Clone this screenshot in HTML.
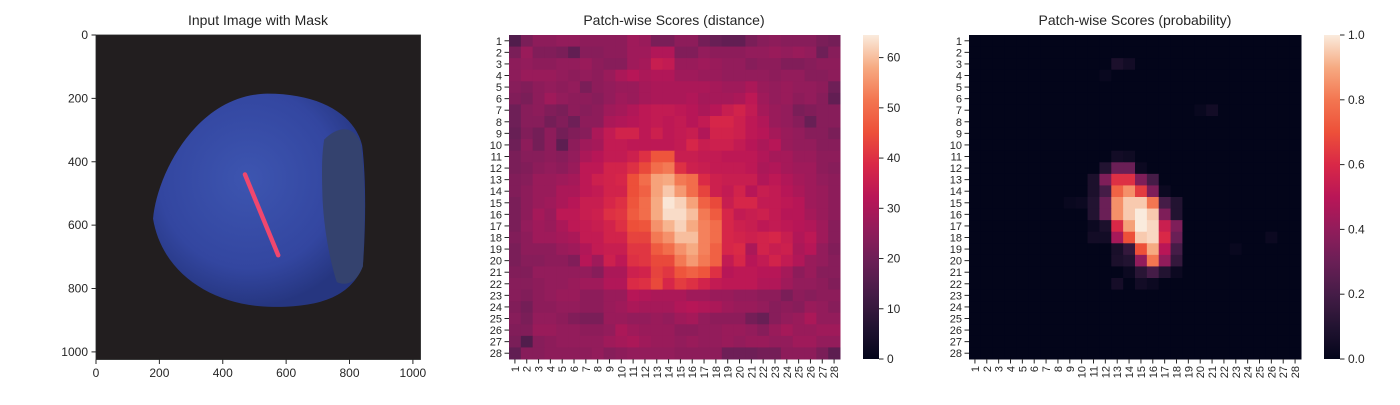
<!DOCTYPE html>
<html><head><meta charset="utf-8"><style>
body{margin:0;background:#fff;}
svg text{font-family:"Liberation Sans",Arial,sans-serif;fill:#262626;}
</style></head><body>
<svg id="fig" width="1400" height="400" xmlns="http://www.w3.org/2000/svg">
<defs>
<radialGradient id="nutGrad" cx="0.45" cy="0.4" r="0.6">
<stop offset="0" stop-color="#3d55b0"/><stop offset="0.7" stop-color="#3346a0"/><stop offset="1" stop-color="#263680"/>
</radialGradient>
</defs>
<text x="258" y="25" font-size="14" text-anchor="middle">Input Image with Mask</text>
<text x="674" y="25" font-size="14" text-anchor="middle">Patch-wise Scores (distance)</text>
<text x="1135" y="25" font-size="14" text-anchor="middle">Patch-wise Scores (probability)</text>
<g id="imgax"></g>
<g id="hm1"></g>
<g id="hm2"></g>
</svg>
<script>
const NS="http://www.w3.org/2000/svg";
function mk(tag,attrs,parent){const e=document.createElementNS(NS,tag);for(const k in attrs)e.setAttribute(k,attrs[k]);parent.appendChild(e);return e;}

const imgTicks=[0,200,400,600,800,1000];
const distTicks=[0,10,20,30,40,50,60];
const probTicks=[0,0.2,0.4,0.6,0.8,1.0];
const probTickLabels=["0.0","0.2","0.4","0.6","0.8","1.0"];
const distMax=64.5;
const distRows=[
[15,22,25,25,26,26,25,25,25,25,28,27,22,22,25,25,21,19,18,18,22,24,25,24,24,24,22,21],
[22,27,23,23,22,18,24,24,25,25,28,28,31,31,23,23,26,25,25,25,26,26,27,26,27,26,20,24],
[25,26,25,25,26,26,27,25,24,24,28,29,35,34,27,27,28,27,26,26,24,25,25,23,23,24,25,25],
[25,27,27,27,26,25,26,25,27,30,32,30,31,31,28,28,27,27,26,26,26,26,25,26,26,24,24,25],
[24,23,25,26,25,26,22,25,26,27,27,29,30,30,30,30,30,29,28,28,30,27,26,27,26,26,25,20],
[23,22,25,28,26,25,25,24,26,28,27,29,30,30,30,31,29,29,29,30,33,28,26,27,25,26,24,18],
[20,24,25,23,22,25,24,25,28,29,31,33,34,34,33,32,30,32,35,37,34,29,27,26,22,23,24,24],
[20,24,24,21,23,20,25,25,30,31,32,33,34,33,34,32,34,38,38,36,33,31,27,26,24,19,24,24],
[19,23,21,25,21,23,24,30,34,37,37,33,36,33,34,35,31,37,37,36,33,32,29,27,26,24,24,22],
[20,25,21,25,17,25,28,29,34,34,33,33,33,33,34,38,35,36,36,34,32,30,32,27,26,26,24,24],
[22,24,24,25,24,26,30,32,34,34,36,40,46,46,35,35,34,34,33,33,33,31,29,29,27,27,25,25],
[22,23,25,26,25,27,33,33,37,37,40,44,50,52,40,36,35,34,34,34,33,30,31,29,28,28,25,24],
[23,24,27,27,28,29,33,36,37,38,45,50,57,58,52,50,39,36,35,35,35,31,33,31,29,28,26,25],
[23,25,27,27,30,30,33,34,37,37,45,48,57,61,56,50,43,36,34,37,32,35,34,32,30,28,27,25],
[22,25,27,28,30,32,35,35,38,40,46,50,58,64,62,57,48,44,35,38,38,34,34,33,32,28,27,25],
[22,25,29,27,33,33,35,36,40,41,47,50,58,63,63,60,52,47,38,34,35,36,34,32,32,29,27,25],
[22,26,28,27,30,33,34,35,37,40,45,46,55,59,62,58,53,50,38,36,35,33,34,33,32,31,28,24],
[23,25,28,28,29,30,34,34,37,37,43,43,52,55,60,60,53,50,38,37,36,37,38,35,31,33,28,24],
[22,25,25,25,27,28,31,34,35,35,41,41,47,50,55,58,53,48,38,39,30,37,35,36,30,32,26,23],
[22,24,24,25,25,23,32,28,36,33,40,41,44,44,52,56,52,48,34,38,32,34,37,34,31,27,26,24],
[23,23,26,26,26,26,26,24,30,30,36,37,43,41,46,48,46,40,32,33,33,32,32,29,25,27,24,24],
[24,24,25,26,26,27,28,28,31,31,39,40,44,38,42,40,37,34,33,33,33,31,31,28,26,26,25,23],
[24,23,25,26,27,27,25,25,27,27,32,31,30,30,30,28,28,27,27,26,26,25,25,22,25,24,25,25],
[23,21,25,25,26,26,25,25,27,28,30,29,29,29,31,32,31,30,28,27,27,26,24,25,24,27,26,24],
[24,22,26,26,25,23,22,22,27,27,26,26,27,26,28,29,26,25,25,25,21,19,24,26,27,30,26,26],
[23,23,27,27,26,26,25,25,26,30,28,27,27,27,25,25,26,26,27,27,26,24,27,29,27,27,28,28],
[22,15,24,25,26,26,26,26,28,29,30,28,27,27,26,27,26,26,27,26,27,27,26,26,28,28,26,26],
[18,24,24,25,25,25,25,26,24,25,26,26,26,26,25,25,25,25,20,20,20,21,21,25,25,25,22,17]];
// probability: non-zero cells [row, col, value] (0-based); everything else 0
const probCells=[
[2,12,0.08],[2,13,0.05],[3,11,0.02],[6,20,0.05],[6,19,0.02],
[10,12,0.05],[10,13,0.04],
[11,11,0.1],[11,12,0.3],[11,13,0.3],[11,14,0.03],
[12,10,0.08],[12,11,0.35],[12,12,0.62],[12,13,0.62],[12,14,0.35],[12,15,0.2],
[13,10,0.08],[13,11,0.2],[13,12,0.75],[13,13,0.85],[13,14,0.65],[13,15,0.35],[13,16,0.03],
[14,8,0.02],[14,9,0.03],[14,10,0.1],[14,11,0.3],[14,12,0.85],[14,13,0.95],[14,14,0.95],[14,15,0.8],[14,16,0.2],[14,17,0.1],
[15,10,0.1],[15,11,0.3],[15,12,0.85],[15,13,0.95],[15,14,1.0],[15,15,0.95],[15,16,0.35],[15,17,0.1],
[16,10,0.03],[16,11,0.08],[16,12,0.6],[16,13,0.88],[16,14,1.0],[16,15,0.97],[16,16,0.55],[16,17,0.35],
[17,10,0.05],[17,11,0.05],[17,12,0.45],[17,13,0.7],[17,14,0.95],[17,15,0.97],[17,16,0.6],[17,17,0.3],
[18,12,0.07],[18,13,0.15],[18,14,0.7],[18,15,0.9],[18,16,0.5],[18,17,0.2],
[19,12,0.08],[19,13,0.1],[19,14,0.4],[19,15,0.8],[19,16,0.4],[19,17,0.15],
[20,13,0.03],[20,14,0.12],[20,15,0.2],[20,16,0.1],[20,17,0.03],
[21,12,0.06],[21,14,0.05],[21,15,0.03],[18,22,0.02],[17,25,0.03]];

const stops=[[0,[3,5,26]],[0.1,[34,19,49]],[0.2,[69,28,71]],[0.3,[106,31,86]],[0.4,[146,28,91]],[0.5,[185,22,87]],[0.6,[217,40,71]],[0.7,[237,80,57]],[0.8,[243,118,81]],[0.9,[246,170,130]],[1,[250,235,221]]];
function rocket(t){t=Math.max(0,Math.min(1,t));for(let i=1;i<stops.length;i++){if(t<=stops[i][0]){const a=stops[i-1],b=stops[i],f=(t-a[0])/(b[0]-a[0]);return`rgb(${a[1].map((v,k)=>Math.round(v+(b[1][k]-v)*f)).join(',')})`;}}return'rgb(250,235,221)';}

// ---- Input image axes ----
const ia=document.getElementById('imgax');
const IX=96,IY=35,IS=324.5/1024;
const ix=v=>IX+v*IS, iy=v=>IY+v*IS;
const g=mk('g',{transform:`translate(${IX},${IY}) scale(${IS})`},ia);
let e=mk('rect',{x:0,y:0,width:1024,height:1024,fill:'#221e1f'},g);

e=mk('path',{d:'M180,580 C190,450 310,190 540,185 C720,185 820,260 840,350 C852,450 852,600 842,730 C800,830 700,858 560,858 C380,858 210,760 180,580 Z',fill:'url(#nutGrad)'},g);

e=mk('path',{d:'M720,330 C760,290 810,280 835,340 C850,440 850,590 842,730 C820,790 780,790 760,780 C740,720 720,620 715,520 C712,430 712,380 720,330 Z',fill:'#34426e'},g);

e=mk('line',{x1:470,y1:440,x2:575,y2:695,stroke:'#f0476e','stroke-width':14,'stroke-linecap':'round'},g);

e=mk('rect',{x:IX,y:IY,width:324.5,height:324.5,fill:'none',stroke:'#262626','stroke-width':0.8},ia);

imgTicks.forEach(v=>{
  mk('line',{x1:ix(v),x2:ix(v),y1:IY+324.5,y2:IY+329,stroke:'#262626'},ia);
  let t=mk('text',{x:ix(v),y:IY+342,'font-size':12,'text-anchor':'middle'},ia);t.textContent=v;
  
  mk('line',{x1:IX-4.5,x2:IX,y1:iy(v),y2:iy(v),stroke:'#262626'},ia);
  t=mk('text',{x:IX-8,y:iy(v)+4,'font-size':12,'text-anchor':'end'},ia);t.textContent=v;
  
});

// ---- Heatmaps ----
function heatmap(gid,X0,W,getVal,vmax,cbX,ticks,tickLabels){
  const G=document.getElementById(gid);const Y0=35,H=324,N=28;
  const cx=c=>X0+c*W/N, cy=r=>Y0+r*H/N;
  for(let r=0;r<N;r++)for(let c=0;c<N;c++){
    const rc=mk('rect',{x:cx(c),y:cy(r),width:W/N+0.5,height:H/N+0.5,fill:rocket(getVal(r,c)/vmax)},G);
    
    
  }
  for(let i=0;i<N;i++){
    const yc=cy(i+0.5),xc=cx(i+0.5);
    mk('line',{x1:X0-4.5,x2:X0,y1:yc,y2:yc,stroke:'#262626'},G);
    let t=mk('text',{x:X0-7,y:yc+4,'font-size':11,'text-anchor':'end'},G);t.textContent=i+1;
    
    mk('line',{x1:xc,x2:xc,y1:Y0+H,y2:Y0+H+4.5,stroke:'#262626'},G);
    t=mk('text',{x:xc+4,y:Y0+H+7,'font-size':11,'text-anchor':'end',transform:`rotate(-90 ${xc+4} ${Y0+H+7})`},G);t.textContent=i+1;
    
  }
  const defs=mk('defs',{},G);const lg=mk('linearGradient',{id:gid+'grad',x1:0,y1:1,x2:0,y2:0},defs);
  for(let k=0;k<=20;k++)mk('stop',{offset:k/20,'stop-color':rocket(k/20)},lg);
  const cb=mk('rect',{x:cbX,y:Y0,width:16,height:H,fill:`url(#${gid}grad)`},G);
  
  ticks.forEach((v,i)=>{const y=Y0+H-v/vmax*H;
    mk('line',{x1:cbX+16,x2:cbX+20.5,y1:y,y2:y,stroke:'#262626'},G);
    const t=mk('text',{x:cbX+24,y:y+4,'font-size':12},G);t.textContent=tickLabels[i];
    });
}
heatmap('hm1',509,331,(r,c)=>distRows[r][c],distMax,863,distTicks,distTicks.map(String));
const probGrid=Array.from({length:28},()=>new Array(28).fill(0));
probCells.forEach(([r,c,v])=>probGrid[r][c]=v);
heatmap('hm2',969,332,(r,c)=>probGrid[r][c],1,1324,probTicks,probTickLabels);
</script>
</body></html>
